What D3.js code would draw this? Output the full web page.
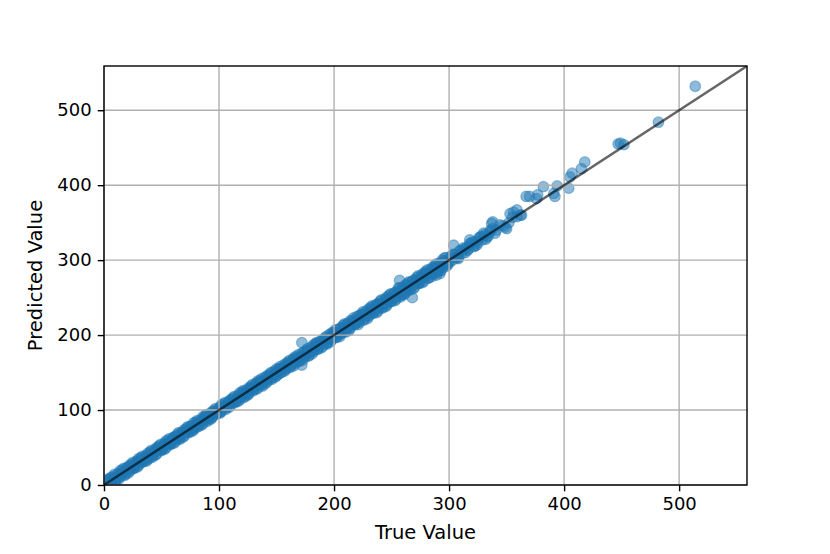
<!DOCTYPE html>
<html>
<head>
<meta charset="utf-8">
<script src="https://cdn.jsdelivr.net/npm/d3@7"></script>
<style>
  html, body { margin: 0; padding: 0; background: #fff; }
  svg { display: block; }
  text { font-family: "DejaVu Sans", sans-serif; fill: #000; }
</style>
</head>
<body>
<svg id="chart" width="830" height="554"></svg>
<script>
// ---- Data ----
const trueValues = [
  1,3,5,7,9,11,13,15,17,19,
  21,23,25,27,29,31,33,35,37,39,
  41,43,45,47,49,51,53,55,57,59,
  61,63,65,67,69,71,73,75,77,79,
  81,83,85,87,89,91,93,95,97,99,
  101,103,105,107,109,111,113,115,117,119,
  121,123,125,127,129,131,133,135,137,139,
  141,143,145,147,149,151,153,155,157,159,
  161,163,165,167,169,171,173,175,177,179,
  181,183,185,187,189,191,193,195,197,199,
  201,203,205,207,209,211,213,215,217,219,
  221,223,225,227,229,231,233,235,237,239,
  241,243,245,247,249,251,253,255,257,259,
  261,263,265,267,269,271,273,275,277,279,
  281,283,285,287,289,291,293,295,297,299,
  2,6,10,14,18,22,26,30,34,38,
  42,46,50,54,58,62,66,70,74,78,
  82,86,90,94,98,102,106,110,114,118,
  122,126,130,134,138,142,146,150,154,158,
  162,166,170,174,178,182,186,190,194,198,
  202,206,210,214,218,222,226,230,234,238,
  242,246,250,254,258,262,266,270,274,278,
  282,286,290,294,298,
  0,2,4,6,8,10,12,14,16,18,
  20,22,24,26,28,30,32,34,36,38,
  40,42,44,46,48,50,52,54,56,58,
  60,62,64,66,68,70,72,74,76,78,
  80,82,84,86,88,90,92,94,96,98,
  100,102,104,106,108,110,112,114,116,118,
  120,122,124,126,128,130,132,134,136,138,
  140,142,144,146,148,150,152,154,156,158,
  160,162,164,166,168,170,172,174,176,178,
  180,182,184,186,188,190,192,194,196,198,
  200,202,204,206,208,210,212,214,216,218,
  220,222,224,226,228,230,232,234,236,238,
  240,242,244,246,248,250,252,254,256,258,
  260,262,264,266,268,270,272,274,276,278,
  280,282,284,286,288,290,292,294,296,298,
  0,4,8,12,16,20,24,28,32,36,
  40,44,48,52,56,60,64,68,72,76,
  80,84,88,92,96,100,104,108,112,116,
  120,124,128,132,136,140,144,148,152,156,
  160,164,168,172,176,180,184,188,192,196,
  200,204,208,212,216,220,224,228,232,236,
  240,244,248,252,256,260,264,268,272,276,
  280,284,288,292,296,
  1,5,9,13,17,21,25,29,33,37,
  41,45,49,53,57,61,65,69,73,77,
  81,85,89,93,97,101,105,109,113,117,
  121,125,129,133,137,141,145,149,153,157,
  161,165,169,173,177,181,185,189,193,197,
  201,205,209,213,217,221,225,229,233,237,
  241,245,249,253,257,261,265,269,273,277,
  281,285,289,293,297,
  300,304,308,312,316,320,324,328,332,336,
  340,302,306,310,314,318,322,326,334,338,
  172,172,257,268,289,292,308,304,
  301,303,305,307,309,311,313,315,317,319,
  321,323,325,327,329,331,333,335,
  318,330,337,338,341,344,347,349,350,352,353,355,356,359,359,362,363,
  367,370,376,377,382,391,392,394,404,405,407,415,418,
  447,449,452,482,514
];
const predictedValues = [
  3,2,8,5,10,8,15,15,15,22,
  20,25,22,28,32,29,33,37,36,36,
  43,41,46,50,48,48,55,55,55,60,
  64,62,62,69,69,72,71,78,76,76,
  83,81,86,90,88,91,90,97,95,100,
  98,105,105,105,112,110,114,112,119,117,
  124,122,121,129,129,129,136,136,134,141,
  139,144,142,150,149,147,155,154,158,156,
  163,161,168,166,165,172,173,172,179,177,
  182,180,188,185,189,193,189,196,196,202,
  199,203,201,209,208,214,210,216,215,221,
  218,224,228,225,229,227,235,234,240,236,
  242,241,247,243,249,254,250,256,255,254,
  263,260,265,270,267,272,269,277,276,282,
  279,284,282,289,289,287,296,294,299,296,
  0,10,6,19,13,26,22,35,31,42,
  37,50,46,59,54,65,61,74,70,83,
  78,91,85,98,95,107,101,114,110,123,
  117,130,126,139,132,146,141,155,150,162,
  157,171,166,178,172,187,181,194,188,203,
  197,210,204,219,214,226,220,235,229,242,
  236,251,245,258,251,267,260,274,269,283,
  276,291,285,300,294,
  3,0,8,3,11,6,15,11,20,14,
  23,18,28,23,31,26,36,31,39,34,
  44,39,47,42,52,47,55,50,60,55,
  63,58,68,63,71,66,76,71,79,74,
  84,79,87,82,92,87,95,90,100,95,
  103,98,108,103,111,106,116,111,119,114,
  124,118,127,122,132,127,136,130,139,134,
  144,138,148,143,152,146,155,150,160,154,
  164,158,168,162,171,165,176,170,180,173,
  184,178,189,182,192,185,196,190,201,194,
  204,197,208,202,213,205,216,209,220,214,
  225,217,228,221,232,225,237,230,240,232,
  245,237,248,240,253,245,256,248,263,253,
  264,256,269,261,272,264,277,269,280,272,
  285,276,288,281,293,284,296,289,303,292,
  1,4,9,11,17,19,25,27,33,35,
  41,43,49,51,57,59,65,67,73,75,
  81,83,89,91,97,99,105,107,113,115,
  121,123,129,131,137,139,145,147,153,155,
  161,163,169,171,177,179,185,187,193,195,
  201,202,210,211,217,218,226,227,233,234,
  242,242,250,250,258,258,266,266,274,274,
  282,282,290,290,298,
  6,0,14,8,22,16,30,24,38,32,
  46,40,54,48,62,56,70,64,78,72,
  86,80,94,88,102,96,110,104,118,112,
  126,120,134,128,142,136,150,144,158,152,
  166,159,174,167,182,175,190,183,198,191,
  207,198,215,206,223,214,231,222,239,230,
  247,238,255,246,263,254,271,262,279,270,
  287,278,295,286,303,
  296,308,304,316,313,324,320,332,328,340,
  336,306,303,313,310,322,318,330,332,342,
  190,160,273,250,280,282,302,320,
  304,300,307,305,312,309,314,317,315,322,
  319,325,323,330,327,334,331,337,
  327,336,349,351,340,347,346,344,342,350,362,357,364,358,367,360,360,
  385,385,382,387,398,389,385,399,396,411,416,422,431,
  455,456,454,484,532
];
const xTicks = [0, 100, 200, 300, 400, 500];
const yTicks = [0, 100, 200, 300, 400, 500];
const axisLimits = [0, 559];
const xLabel = "True Value";
const yLabel = "Predicted Value";

// ---- Layout ----
const svg = d3.select("#chart");
const mLeft = 104, mRight = 747, mTop = 66, mBottom = 485;

const x = d3.scaleLinear().domain(axisLimits).range([mLeft, mRight]);
const y = d3.scaleLinear().domain(axisLimits).range([mBottom, mTop]);

svg.append("defs").append("clipPath").attr("id", "plotClip")
  .append("rect")
  .attr("x", mLeft).attr("y", mTop)
  .attr("width", mRight - mLeft).attr("height", mBottom - mTop);

const points = trueValues.map((t, i) => ({ t, p: predictedValues[i] }));

// scatter
svg.append("g").attr("clip-path", "url(#plotClip)")
  .selectAll("circle").data(points).enter().append("circle")
  .attr("cx", d => x(d.t))
  .attr("cy", d => y(d.p))
  .attr("r", 5.3)
  .attr("fill", "#1f77b4")
  .attr("fill-opacity", 0.5)
  .attr("stroke", "#1f77b4")
  .attr("stroke-opacity", 0.45)
  .attr("stroke-width", 1.2);

// grid
const grid = svg.append("g");
grid.selectAll("line.gx").data(xTicks).enter().append("line")
  .attr("class", "gx")
  .attr("x1", d => x(d)).attr("x2", d => x(d))
  .attr("y1", mTop).attr("y2", mBottom)
  .attr("stroke", "#b0b0b0").attr("stroke-width", 1.4);
grid.selectAll("line.gy").data(yTicks).enter().append("line")
  .attr("class", "gy")
  .attr("x1", mLeft).attr("x2", mRight)
  .attr("y1", d => y(d)).attr("y2", d => y(d))
  .attr("stroke", "#b0b0b0").attr("stroke-width", 1.4);

// identity line
svg.append("line")
  .attr("clip-path", "url(#plotClip)")
  .attr("x1", x(axisLimits[0])).attr("y1", y(axisLimits[0]))
  .attr("x2", x(axisLimits[1])).attr("y2", y(axisLimits[1]))
  .attr("stroke", "#000").attr("stroke-opacity", 0.6)
  .attr("stroke-width", 2.4);

// axes
const xAxis = d3.axisBottom(x).tickValues(xTicks).tickSize(6.3).tickPadding(6).tickFormat(d3.format("d"));
const yAxis = d3.axisLeft(y).tickValues(yTicks).tickSize(6.3).tickPadding(6).tickFormat(d3.format("d"));

const gx = svg.append("g").attr("transform", `translate(0,${mBottom})`).call(xAxis);
const gy = svg.append("g").attr("transform", `translate(${mLeft},0)`).call(yAxis);
[gx, gy].forEach(g => {
  g.select(".domain").remove();
  g.selectAll(".tick line").attr("stroke", "#000").attr("stroke-width", 1.4);
  g.selectAll(".tick text").attr("font-family", "DejaVu Sans").attr("font-size", 18).attr("fill", "#000");
});

// spines
svg.append("rect")
  .attr("x", mLeft).attr("y", mTop)
  .attr("width", mRight - mLeft).attr("height", mBottom - mTop)
  .attr("fill", "none").attr("stroke", "#000").attr("stroke-width", 1.4);

// labels
svg.append("text")
  .attr("x", (mLeft + mRight) / 2).attr("y", 539)
  .attr("text-anchor", "middle").attr("font-size", 19.5)
  .text(xLabel);
svg.append("text")
  .attr("transform", `translate(42,${(mTop + mBottom) / 2}) rotate(-90)`)
  .attr("text-anchor", "middle").attr("font-size", 19.5)
  .text(yLabel);
</script>
</body>
</html>
